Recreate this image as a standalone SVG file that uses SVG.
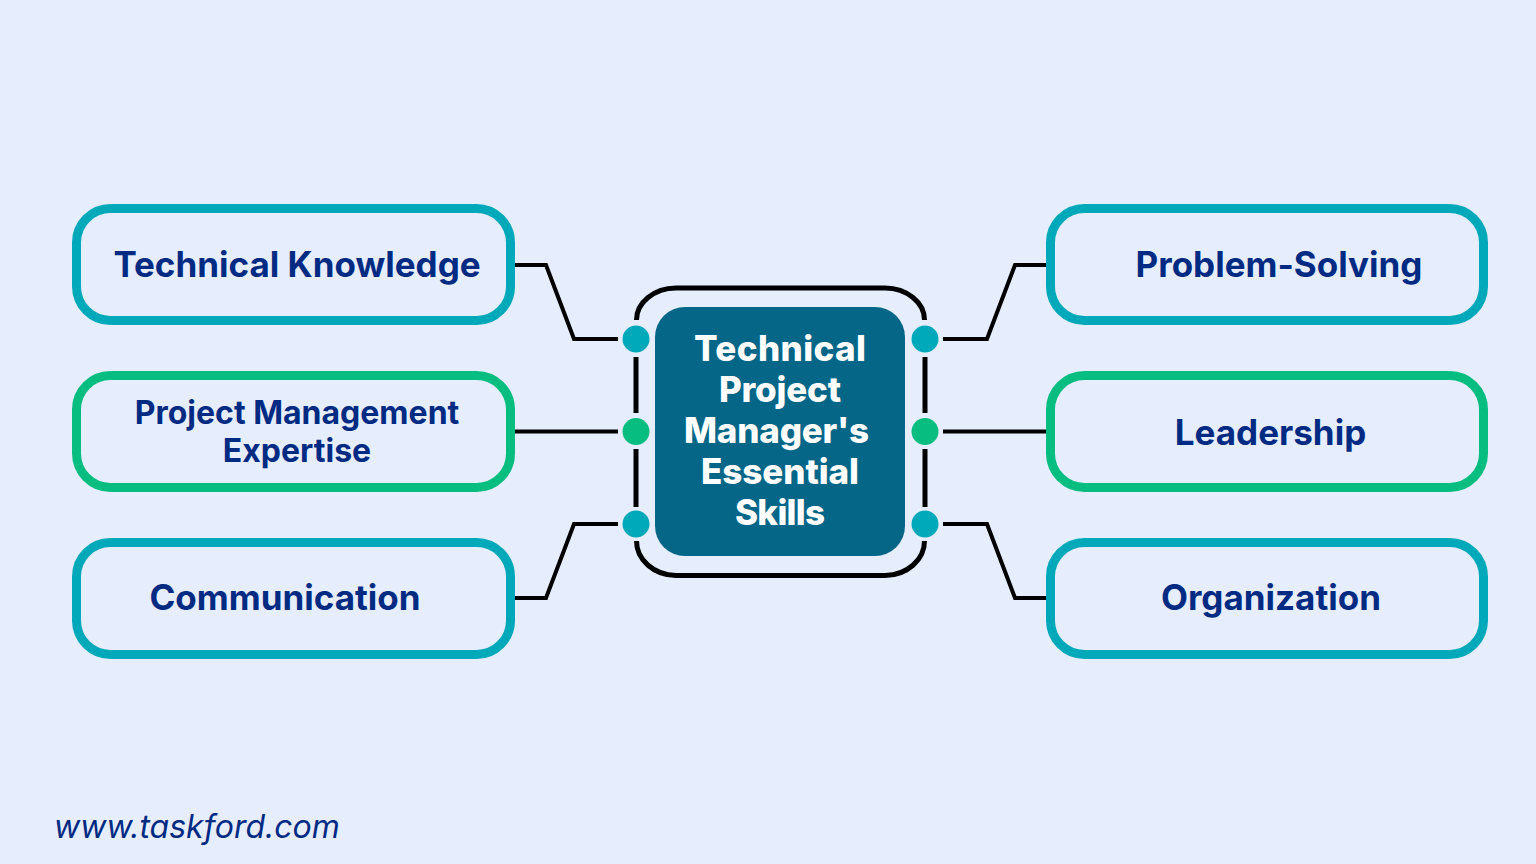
<svg xmlns="http://www.w3.org/2000/svg" width="1536" height="864" viewBox="0 0 1536 864">
<style>
.box{fill:#e6eefe;stroke-width:9}
.t{stroke:#00a9ba}.g{stroke:#08bd80}
.lab{font-family:Inter,"Liberation Sans",sans-serif;font-weight:700;fill:#012b83;text-anchor:middle}
.cen{font-family:Inter,"Open Sans",sans-serif;font-weight:800;font-size:35px;fill:#fff;text-anchor:middle}
.c{fill:none;stroke:#000;stroke-width:4}
.f{fill:none;stroke:#000;stroke-width:5}
.dt{fill:#00a9ba}.dg{fill:#08bd80}
</style>
<rect width="1536" height="864" fill="#e6eefe"/>
<g id="connectors">
<path class="c" d="M515 265H546L574 339H618"/>
<path class="c" d="M515 431.500H618"/>
<path class="c" d="M515 598H546L574 524H618"/>
<path class="c" d="M943 339H987L1015 265H1047"/>
<path class="c" d="M943 431.500H1047"/>
<path class="c" d="M943 524H987L1015 598H1047"/>
</g>
<g id="center">
<path class="f" d="M636.500 320A40 32 0 0 1 676 288H885A40 32 0 0 1 924.500 320"/>
<path class="f" d="M636 357V413M636 449V507M925 357V413M925 449V507"/>
<path class="f" d="M636.500 541A40 34.500 0 0 0 676 575.500H885A40 34.500 0 0 0 924.500 541"/>
<rect x="655" y="307" width="250" height="249" rx="30" fill="#056688"/>
<text class="cen" x="780" y="361" textLength="172">Technical</text>
<text class="cen" x="780" y="402" textLength="122">Project</text>
<text class="cen" x="776.500" y="443" textLength="185">Manager's</text>
<text class="cen" x="780" y="484" textLength="158">Essential</text>
<text class="cen" x="780" y="525" textLength="90">Skills</text>
<circle class="dt" cx="636" cy="339" r="13.500"/>
<circle class="dg" cx="636" cy="431.500" r="13.500"/>
<circle class="dt" cx="636" cy="524" r="13.500"/>
<circle class="dt" cx="925" cy="339" r="13.500"/>
<circle class="dg" cx="925" cy="431.500" r="13.500"/>
<circle class="dt" cx="925" cy="524" r="13.500"/>
</g>
<g id="technical-knowledge"><rect class="box t" x="76.500" y="208.500" width="434" height="112" rx="34"/><text class="lab" x="297" y="277" font-size="35">Technical Knowledge</text></g>
<g id="project-management"><rect class="box g" x="76.500" y="375.500" width="434" height="112" rx="34"/><text class="lab" x="297" y="424" font-size="32">Project Management</text><text class="lab" x="297" y="462" font-size="32">Expertise</text></g>
<g id="communication"><rect class="box t" x="76.500" y="542.500" width="434" height="112" rx="34"/><text class="lab" x="285" y="610" font-size="35">Communication</text></g>
<g id="problem-solving"><rect class="box t" x="1050.500" y="208.500" width="433" height="112" rx="34"/><text class="lab" x="1279" y="277" font-size="35">Problem-Solving</text></g>
<g id="leadership"><rect class="box g" x="1050.500" y="375.500" width="433" height="112" rx="34"/><text class="lab" x="1270.500" y="445" font-size="35">Leadership</text></g>
<g id="organization"><rect class="box t" x="1050.500" y="542.500" width="433" height="112" rx="34"/><text class="lab" x="1271" y="610" font-size="35">Organization</text></g>
<text x="54" y="838" font-family="Inter,'Liberation Sans',sans-serif" font-style="italic" font-size="32" fill="#012b83">www.taskford.com</text>
</svg>
